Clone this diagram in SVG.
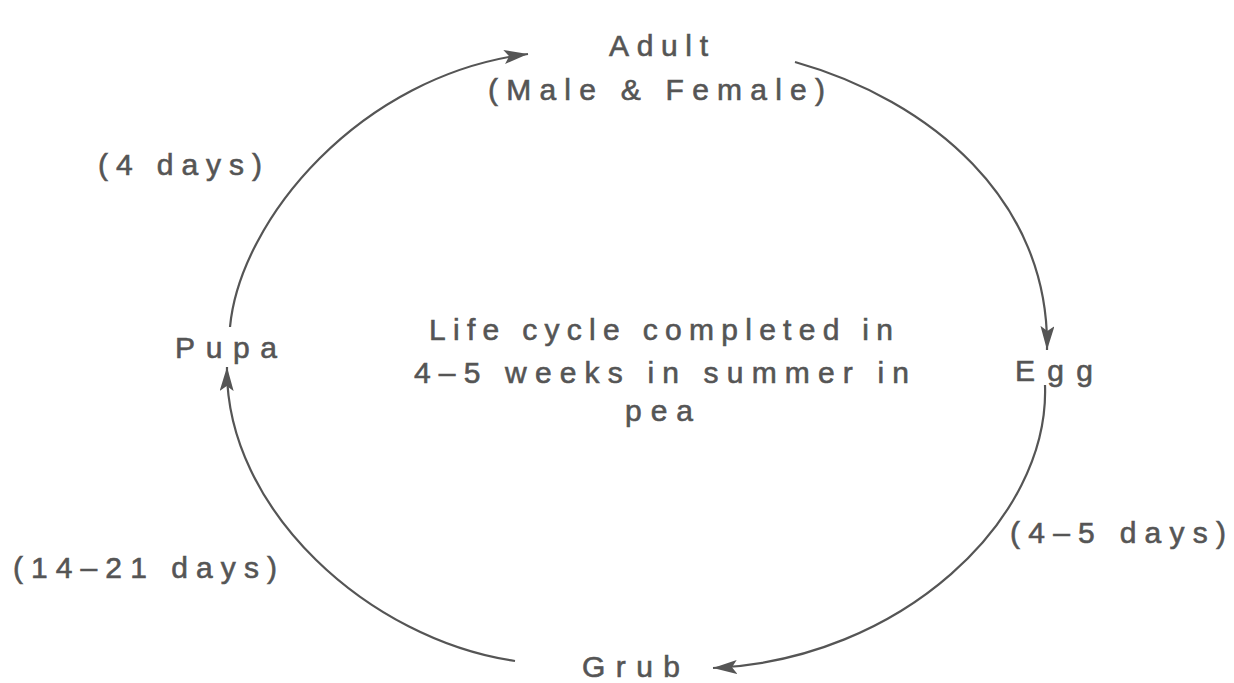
<svg xmlns="http://www.w3.org/2000/svg" width="1234" height="683" viewBox="0 0 1234 683">
  <style>
    .lbl { font-family: "Liberation Sans", Arial, sans-serif; font-size: 30px; fill: #555555; stroke: #555555; stroke-width: 0.6; }
    .arc { fill: none; stroke: #555555; stroke-width: 2.2; marker-end: url(#arrow); }
  </style>
  <defs>
    <marker id="arrow" markerUnits="userSpaceOnUse" markerWidth="26" markerHeight="16" refX="24" refY="7" orient="auto">
      <path d="M0,0 L24,7 L0,14 L5,7 z" fill="#555555"/>
    </marker>
  </defs>
  <rect width="1234" height="683" fill="#ffffff"/>

  <g id="connectors">
    <path class="arc" d="M230,327 C240,220 360,75 528,54"/>
    <path class="arc" d="M795,62 C930,100 1050,200 1047,350"/>
    <path class="arc" d="M1045,385 C1050,520 900,660 713,668"/>
    <path class="arc" d="M515,661 C370,640 225,510 227,367"/>
  </g>

  <g id="adult">
    <text class="lbl" x="609" y="56" textLength="99" lengthAdjust="spacing">Adult</text>
    <text class="lbl" x="488" y="100" textLength="337" lengthAdjust="spacing">(Male &amp; Female)</text>
  </g>
  <g id="egg">
    <text class="lbl" x="1015" y="381" textLength="78" lengthAdjust="spacing">Egg</text>
  </g>
  <g id="grub">
    <text class="lbl" x="582" y="677" textLength="98" lengthAdjust="spacing">Grub</text>
  </g>
  <g id="pupa">
    <text class="lbl" x="175" y="358" textLength="102" lengthAdjust="spacing">Pupa</text>
  </g>
  <g id="durations">
    <text class="lbl" x="98" y="175" textLength="164" lengthAdjust="spacing">(4 days)</text>
    <text class="lbl" x="1010" y="543" textLength="216" lengthAdjust="spacing">(4–5 days)</text>
    <text class="lbl" x="13" y="578" textLength="264" lengthAdjust="spacing">(14–21 days)</text>
  </g>
  <g id="center-note">
    <text class="lbl" x="429" y="340" textLength="464" lengthAdjust="spacing">Life cycle completed in</text>
    <text class="lbl" x="414" y="383" textLength="495" lengthAdjust="spacing">4–5 weeks in summer in</text>
    <text class="lbl" x="625" y="421" textLength="68" lengthAdjust="spacing">pea</text>
  </g>
</svg>
